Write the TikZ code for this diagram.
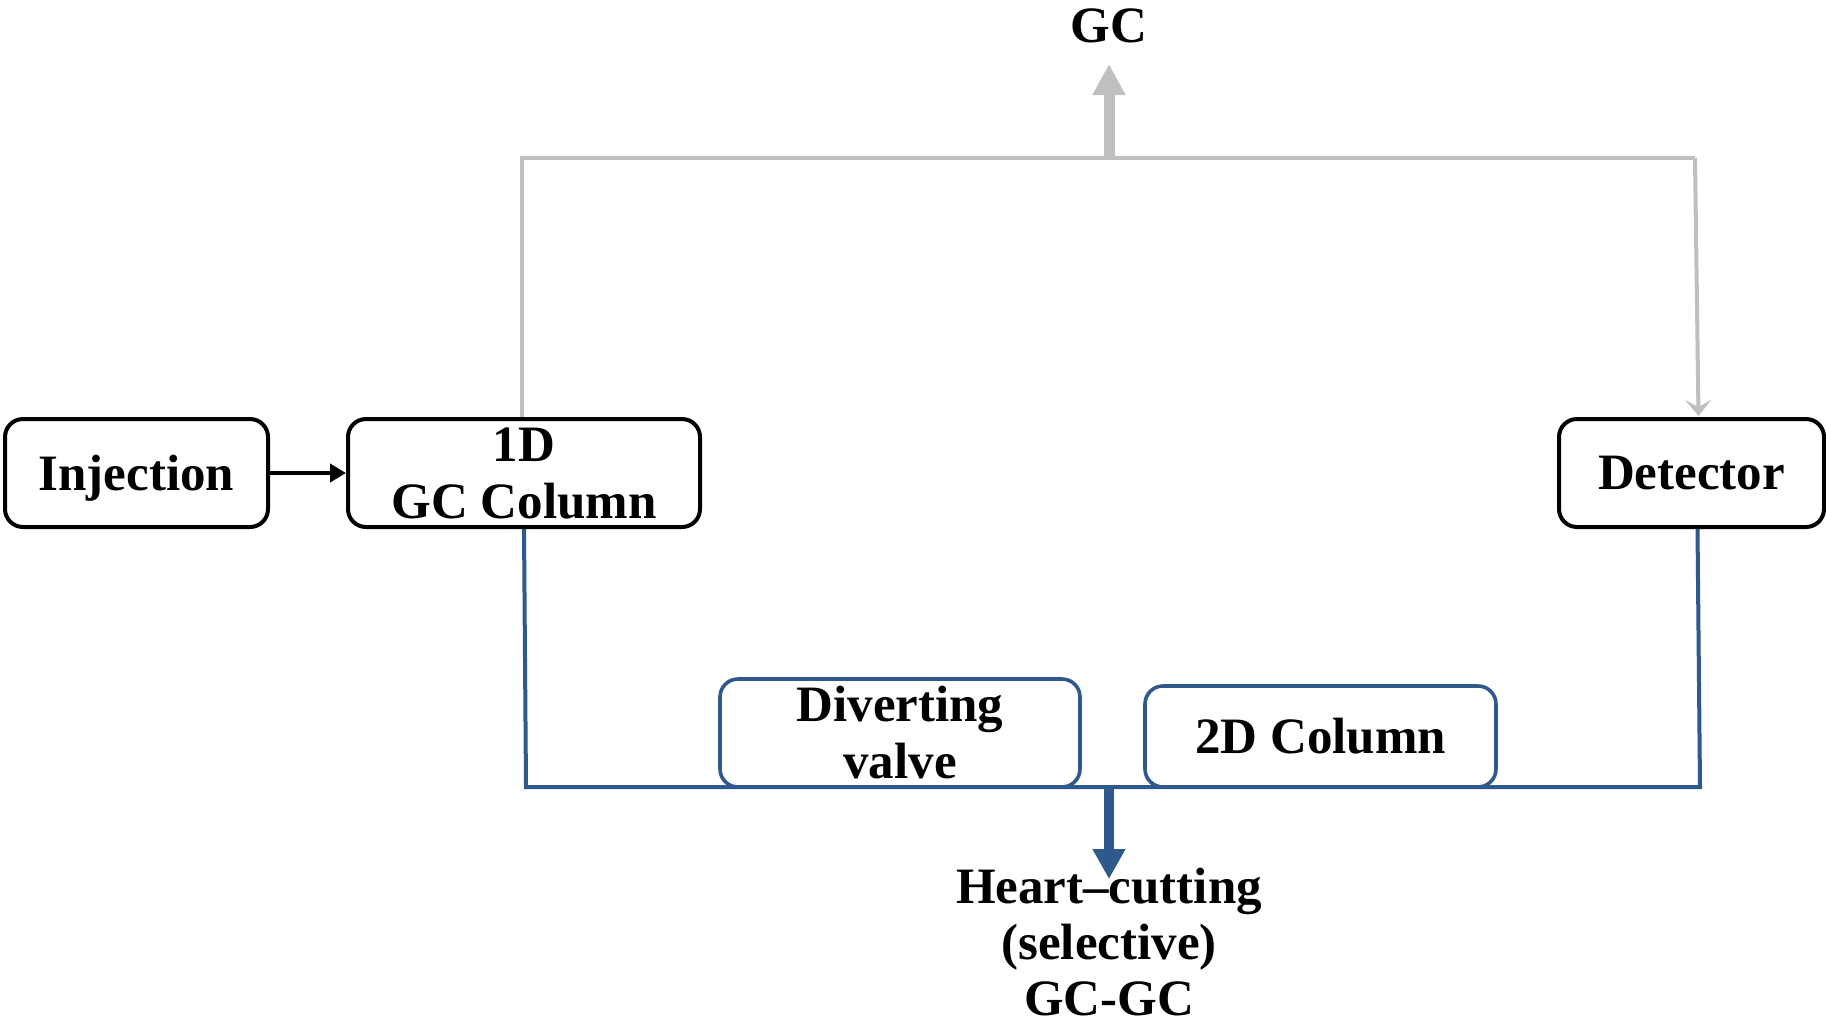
\documentclass[tikz,border=0pt]{standalone}
\usepackage{fontspec}
\setmainfont{Liberation Serif}
\usetikzlibrary{arrows.meta,calc}
\definecolor{lgrey}{RGB}{191,191,191}
\definecolor{dblue}{RGB}{47,88,140}
\tikzset{
  box/.style={draw=black,line width=2pt,rounded corners=9pt,fill=white,inner sep=0pt,align=center,font=\fontsize{25.5}{28.5}\selectfont\bfseries},
  bbox/.style={box,draw=dblue,line width=1.8pt},
  lbl/.style={inner sep=0pt,align=center,font=\fontsize{25.5}{28}\selectfont\bfseries},
  gline/.style={draw=lgrey,line width=2pt},
  bline/.style={draw=dblue,line width=2pt},
}
\begin{document}
\begin{tikzpicture}[x=0.5pt,y=-0.5pt]
\useasboundingbox (0,0) rectangle (1826,1024);
\node[box,minimum width=131.5pt,minimum height=54pt,text depth=0pt] (inj) at (136.5,473) {Injection};
\node[box,minimum width=176pt,minimum height=54pt] (col1) at (524,473) {1D\\GC Column};
\node[box,minimum width=132.5pt,minimum height=54pt] (det) at (1691.5,473) {Detector};
\node[bbox,minimum width=180pt,minimum height=54pt] (div) at (900,733) {Diverting\\valve};
\node[bbox,minimum width=175.5pt,minimum height=50.5pt] (col2) at (1320.5,736.5) {2D Column};
\node[lbl] (gc) at (1109,26) {GC};
\node[lbl] (hc) at (1109,942) {Heart--cutting\\(selective)\\GC-GC};
\coordinate (gL) at (522,158);
\coordinate (gM) at (1109,158);
\coordinate (gR) at (1695,158);
\coordinate (gT) at (1109,64);
\coordinate (bL) at (526,787);
\coordinate (bM) at (1109,787);
\coordinate (bR) at (1700,787);
\coordinate (bB) at (1109,879);
% grey GC path
\draw[gline] (col1.north -| gL) -- (gL) -- (gR);
\draw[gline,-{Stealth[length=8pt,width=13pt,inset=3.5pt]}] (gR) -- ($(det.north)+(7,-1)$);
\draw[draw=lgrey,line width=5.5pt,-{Triangle[length=15.5pt,width=15.5pt]}] (gM) -- (gT);
% blue heart-cutting path
\draw[bline] (col1.south) -- (bL) -- (bR) -- ($(det.south)+(6,0)$);
\draw[draw=dblue,line width=5pt,-{Triangle[length=15pt,width=15.5pt]}] (bM) -- (bB);
% injection arrow
\draw[black,line width=2pt,-{Triangle[length=8pt,width=9pt]}] (inj.east) -- (col1.west);
\end{tikzpicture}
\end{document}
